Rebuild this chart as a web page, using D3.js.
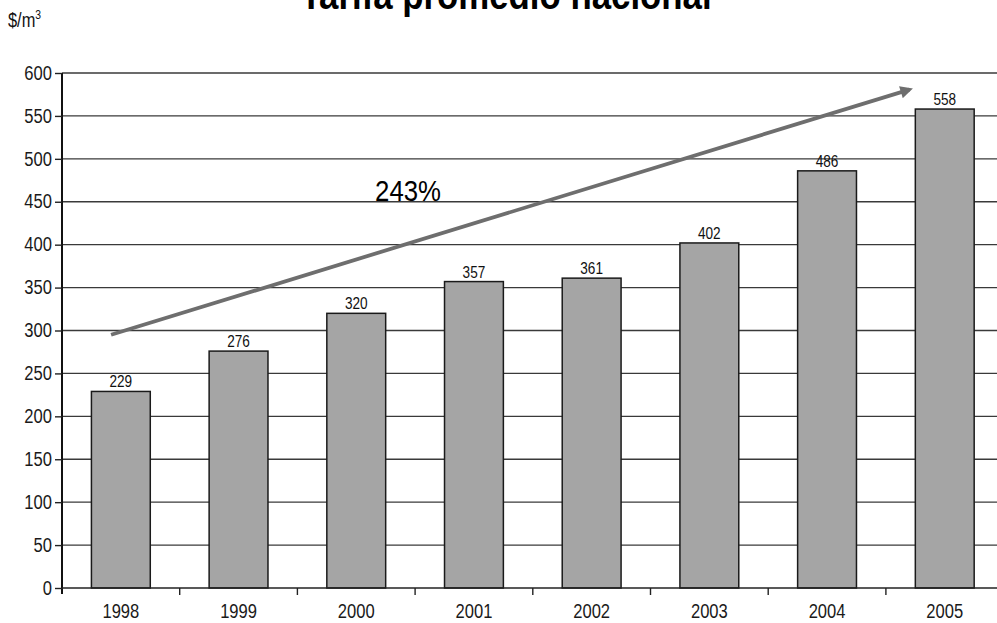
<!DOCTYPE html>
<html>
<head>
<meta charset="utf-8">
<script src="https://cdn.jsdelivr.net/npm/d3@7"></script>
<style>
  html, body { margin: 0; padding: 0; background: #fff; }
  svg { display: block; }
  text { font-family: "Liberation Sans", Arial, Helvetica, sans-serif; }
</style>
</head>
<body>
<svg id="chart" width="997" height="623"></svg>
<script>
// Average national water tariff, $/m3
const years = ["1998", "1999", "2000", "2001", "2002", "2003", "2004", "2005"];
const tariffs = [229, 276, 320, 357, 361, 402, 486, 558];
const yTicks = [0, 50, 100, 150, 200, 250, 300, 350, 400, 450, 500, 550, 600];
const titleText = "Tarifa promedio nacional";
const unitText = "$/m";
const growthText = "243%";
// Growth arrow, in data units: [year, fraction of a category step from the bar's left edge, value]
const arrowFrom = ["1998", 0.167, 295];
const arrowTo = ["2005", 0.0, 583];
const growthLabelAt = ["2000", 0.41, 450];

const svg = d3.select("#chart");
const plotLeft = 62, plotTop = 73, plotBottom = 588;
const step = 117.7;
const narrow = 0.85; // condensed lettering

// Condense a text horizontally around its anchor point
function condense(sel, k) {
  sel.each(function () {
    const t = d3.select(this);
    const tx = +t.attr("x") || 0, ty = +t.attr("y") || 0;
    t.attr("x", 0).attr("y", 0)
      .attr("transform", `translate(${tx},${ty}) scale(${k},1)`);
  });
  return sel;
}

const x = d3.scaleBand()
  .domain(years)
  .range([plotLeft, plotLeft + step * years.length])
  .paddingInner(0.5)
  .paddingOuter(0.25);

const y = d3.scaleLinear().domain([0, 600]).range([plotBottom, plotTop]);

// Title (runs past the top edge)
svg.append("text")
  .attr("x", 506).attr("y", 9)
  .attr("text-anchor", "middle")
  .attr("font-weight", "bold")
  .attr("font-size", 40)
  .attr("fill", "#000")
  .text(titleText)
  .call(condense, 0.87);

// Unit label
const unit = svg.append("text")
  .attr("x", 8).attr("y", 27)
  .attr("font-size", 20.5)
  .attr("fill", "#111")
  .text(unitText);
unit.append("tspan").attr("dy", -8).attr("font-size", 13).text("3");
condense(unit, 0.8);

// Horizontal gridlines
svg.append("g")
  .selectAll("line")
  .data(yTicks.filter(d => d > 0))
  .join("line")
  .attr("x1", plotLeft).attr("x2", 997)
  .attr("y1", d => y(d)).attr("y2", d => y(d))
  .attr("stroke", "#3a3a3a")
  .attr("stroke-width", 1.4);

// Y axis
const yAxis = svg.append("g")
  .attr("transform", `translate(${plotLeft},0)`)
  .call(d3.axisLeft(y).tickValues(yTicks).tickSize(7).tickPadding(3));
yAxis.select(".domain").attr("stroke", "#111").attr("stroke-width", 2)
  .attr("d", `M0,${plotTop}V${plotBottom + 6}`);
yAxis.selectAll(".tick line").attr("stroke", "#222").attr("stroke-width", 1.4);
yAxis.selectAll(".tick text")
  .attr("font-size", 19.5)
  .attr("fill", "#1a1a1a")
  .attr("font-family", "'Liberation Sans', Arial, sans-serif")
  .call(condense, narrow);

const rows = years.map((yr, i) => ({ yr, v: tariffs[i] }));

// Bars
svg.append("g")
  .selectAll("rect")
  .data(rows)
  .join("rect")
  .attr("x", d => x(d.yr))
  .attr("y", d => y(d.v))
  .attr("width", x.bandwidth())
  .attr("height", d => y(0) - y(d.v))
  .attr("fill", "#a5a5a5")
  .attr("stroke", "#1a1a1a")
  .attr("stroke-width", 1.5);

// Value labels
svg.append("g")
  .selectAll("text")
  .data(rows)
  .join("text")
  .attr("x", d => x(d.yr) + x.bandwidth() / 2)
  .attr("y", d => y(d.v) - 4)
  .attr("text-anchor", "middle")
  .attr("font-size", 16)
  .attr("fill", "#111")
  .text(d => d.v)
  .call(condense, narrow);

// X axis: baseline, category separators and year labels
const xAxisG = svg.append("g").attr("transform", `translate(0,${plotBottom})`);
xAxisG.append("line")
  .attr("x1", plotLeft).attr("x2", 997)
  .attr("stroke", "#222").attr("stroke-width", 1.6);
xAxisG.selectAll("line.tick")
  .data(years.slice(1))
  .join("line")
  .attr("class", "tick")
  .attr("x1", d => x(d) - x.paddingOuter() * x.step())
  .attr("x2", d => x(d) - x.paddingOuter() * x.step())
  .attr("y1", 0).attr("y2", 7)
  .attr("stroke", "#222").attr("stroke-width", 1.4);
xAxisG.selectAll("text")
  .data(years)
  .join("text")
  .attr("x", d => x(d) + x.bandwidth() / 2)
  .attr("y", 30)
  .attr("text-anchor", "middle")
  .attr("font-size", 19.5)
  .attr("fill", "#1a1a1a")
  .text(d => d)
  .call(condense, narrow);

// Growth arrow
const defs = svg.append("defs");
defs.append("marker")
  .attr("id", "arrowhead")
  .attr("viewBox", "0 0 10 10")
  .attr("refX", 7).attr("refY", 5)
  .attr("markerWidth", 3.6).attr("markerHeight", 3.3)
  .attr("orient", "auto")
  .append("path")
  .attr("d", "M0,0L10,5L0,10Z")
  .attr("fill", "#6e6e6e");

const ax = p => x(p[0]) + p[1] * x.step();
svg.append("line")
  .attr("x1", ax(arrowFrom)).attr("y1", y(arrowFrom[2]))
  .attr("x2", ax(arrowTo) - 6).attr("y2", y(arrowTo[2]) + 2)
  .attr("stroke", "#6e6e6e")
  .attr("stroke-width", 3.8)
  .attr("marker-end", "url(#arrowhead)");

svg.append("text")
  .attr("x", ax(growthLabelAt)).attr("y", y(growthLabelAt[2]) - 0.5)
  .attr("font-size", 30)
  .attr("fill", "#000")
  .text(growthText)
  .call(condense, 0.86);
</script>
</body>
</html>
